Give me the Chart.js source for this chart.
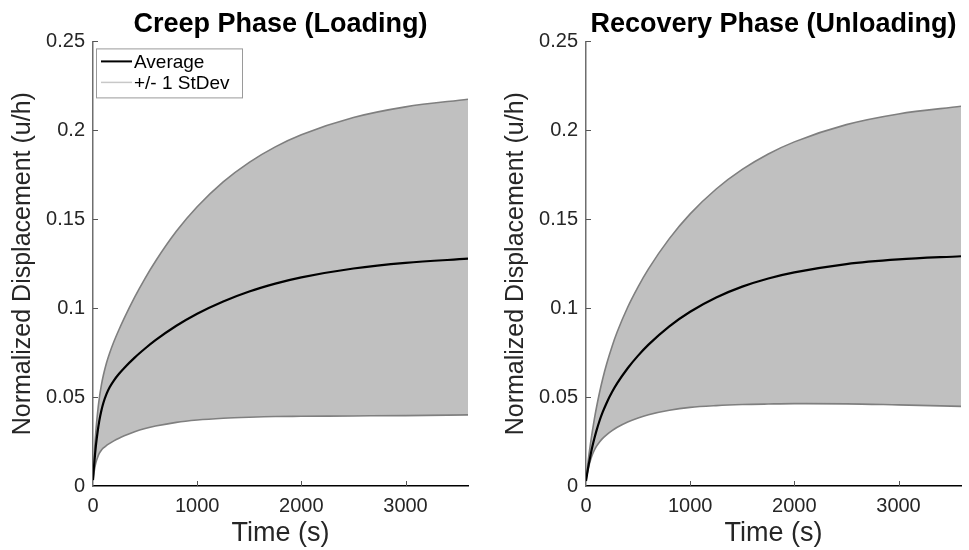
<!DOCTYPE html>
<html>
<head>
<meta charset="utf-8">
<script src="https://cdn.jsdelivr.net/npm/chart.js@4.4.0/dist/chart.umd.min.js"></script>
<style>
  html, body { margin: 0; padding: 0; background: #fff; }
  #wrap { position: relative; width: 969px; height: 550px; }
  canvas { position: absolute; top: 0; }
</style>
</head>
<body>
<div id="wrap">
  <canvas id="creepChart" width="485" height="550" style="left:0px;width:485px;height:550px"></canvas>
  <canvas id="recoveryChart" width="484" height="550" style="left:485px;width:484px;height:550px"></canvas>
</div>
<script>
// time samples (s), shared by every series
const timeS = [0, 5, 10, 20, 30, 45, 60, 80, 100, 130, 160, 200, 250, 300, 400, 500, 600, 800, 1000, 1250, 1500, 1750, 2000, 2500, 3000, 3600];

// creep phase (loading)
const creepAvg   = [0.0034, 0.0075, 0.0113, 0.0180, 0.0238, 0.0308, 0.0365, 0.0423, 0.0468, 0.0518, 0.0555, 0.0593, 0.0631, 0.0664, 0.0722, 0.0773, 0.0820, 0.0901, 0.0969, 0.1038, 0.1094, 0.1138, 0.1173, 0.1223, 0.1255, 0.1278];
const creepUpper = [0.0050, 0.0108, 0.0160, 0.0251, 0.0327, 0.0419, 0.0491, 0.0566, 0.0624, 0.0693, 0.0748, 0.0811, 0.0880, 0.0944, 0.1062, 0.1168, 0.1264, 0.1432, 0.1570, 0.1710, 0.1820, 0.1907, 0.1975, 0.2072, 0.2132, 0.2175];
const creepLower = [0.0030, 0.0055, 0.0076, 0.0110, 0.0136, 0.0162, 0.0183, 0.0201, 0.0214, 0.0228, 0.0240, 0.0254, 0.0269, 0.0282, 0.0305, 0.0323, 0.0337, 0.0358, 0.0371, 0.0381, 0.0387, 0.0391, 0.0392, 0.0394, 0.0396, 0.0400];

// recovery phase (unloading)
const recovAvg   = [0.0028, 0.0047, 0.0066, 0.0101, 0.0133, 0.0178, 0.0219, 0.0267, 0.0310, 0.0367, 0.0415, 0.0470, 0.0528, 0.0578, 0.0662, 0.0733, 0.0795, 0.0898, 0.0980, 0.1060, 0.1121, 0.1167, 0.1201, 0.1248, 0.1274, 0.1292];
const recovUpper = [0.0040, 0.0066, 0.0091, 0.0138, 0.0184, 0.0247, 0.0305, 0.0376, 0.0440, 0.0526, 0.0602, 0.0690, 0.0785, 0.0867, 0.1005, 0.1120, 0.1221, 0.1391, 0.1530, 0.1670, 0.1780, 0.1867, 0.1935, 0.2032, 0.2092, 0.2135];
const recovLower = [0.0030, 0.0048, 0.0064, 0.0093, 0.0118, 0.0149, 0.0174, 0.0201, 0.0223, 0.0248, 0.0268, 0.0289, 0.0311, 0.0330, 0.0360, 0.0383, 0.0401, 0.0426, 0.0442, 0.0452, 0.0458, 0.0461, 0.0463, 0.0462, 0.0456, 0.0448];

const xTicks = [0, 1000, 2000, 3000];
const yTicks = [0, 0.05, 0.1, 0.15, 0.2, 0.25];

Chart.defaults.font.family = '"Liberation Sans", Arial, sans-serif';
Chart.defaults.color = '#262626';

function toPoints(vals) {
    return timeS.map((t, i) => ({x: t, y: vals[i]}));
}

// MATLAB style ticks, pointing into the plot
const innerTicks = {
    id: 'innerTicks',
    afterDraw(chart) {
        const ctx = chart.ctx;
        const a = chart.chartArea;
        const xs = chart.scales.x, ys = chart.scales.y;
        ctx.save();
        ctx.strokeStyle = '#555';
        ctx.lineWidth = 1;
        ctx.beginPath();
        xTicks.forEach(v => {
            if (v === 0) return;
            const px = Math.round(xs.getPixelForValue(v)) + 0.5;
            ctx.moveTo(px, a.bottom);
            ctx.lineTo(px, a.bottom - 5);
        });
        yTicks.forEach(v => {
            if (v === 0) return;
            const py = Math.round(ys.getPixelForValue(v)) + 0.5;
            ctx.moveTo(a.left, py);
            ctx.lineTo(a.left + 5, py);
        });
        ctx.stroke();
        ctx.restore();
    }
};

// boxed legend in the upper left corner of the plot
const boxLegend = {
    id: 'boxLegend',
    afterDraw(chart) {
        const ctx = chart.ctx;
        const a = chart.chartArea;
        const ds = chart.data.datasets;
        const bx = a.left + 3, by = a.top + 7, bw = 146, bh = 49;
        ctx.save();
        ctx.fillStyle = '#fff';
        ctx.fillRect(bx, by, bw, bh);
        ctx.strokeStyle = '#9a9a9a';
        ctx.lineWidth = 1;
        ctx.strokeRect(bx + 0.5, by + 0.5, bw, bh);
        const rows = [
            {label: ds[0].label, color: '#000', width: 2},
            {label: ds[1].label, color: '#c8c8c8', width: 1.5}
        ];
        ctx.font = '19px "Liberation Sans", Arial, sans-serif';
        ctx.textBaseline = 'middle';
        ctx.fillStyle = '#000';
        rows.forEach((r, i) => {
            const ry = by + 13 + i * 21;
            ctx.strokeStyle = r.color;
            ctx.lineWidth = r.width;
            ctx.beginPath();
            ctx.moveTo(bx + 5, ry);
            ctx.lineTo(bx + 36, ry);
            ctx.stroke();
            ctx.fillText(r.label, bx + 38, ry + 1);
        });
        ctx.restore();
    }
};

function makePanel(canvasId, titleText, avg, upper, lower, yAxisWidth, yTitlePad, padRight, withLegend) {
    const ctx = document.getElementById(canvasId).getContext('2d');
    const plugins = [innerTicks];
    if (withLegend) plugins.push(boxLegend);
    return new Chart(ctx, {
        type: 'line',
        data: {
            datasets: [{
                label: 'Average',
                data: toPoints(avg),
                borderColor: '#000',
                borderWidth: 2.2,
                pointRadius: 0,
                cubicInterpolationMode: 'monotone',
                fill: false
            }, {
                label: '+/- 1 StDev',
                data: toPoints(upper),
                borderColor: '#7f7f7f',
                borderWidth: 1.6,
                backgroundColor: '#c0c0c0',
                pointRadius: 0,
                cubicInterpolationMode: 'monotone',
                fill: '+1'
            }, {
                label: '',
                data: toPoints(lower),
                borderColor: '#7f7f7f',
                borderWidth: 1.6,
                pointRadius: 0,
                cubicInterpolationMode: 'monotone',
                fill: false
            }]
        },
        plugins: plugins,
        options: {
            responsive: false,
            animation: false,
            layout: { padding: { left: 0, right: padRight, top: 0, bottom: 0 } },
            plugins: {
                legend: { display: false },
                tooltip: { enabled: false },
                filler: { drawTime: 'beforeDatasetsDraw' },
                title: {
                    display: true,
                    text: titleText,
                    fullSize: false,
                    color: '#000',
                    font: { size: 27, weight: 'bold' },
                    padding: { top: 8, bottom: 1 }
                }
            },
            scales: {
                x: {
                    type: 'linear',
                    min: 0,
                    max: 3600,
                    afterFit(scale) { scale.height = 64; },
                    afterBuildTicks(scale) { scale.ticks = xTicks.map(v => ({value: v})); },
                    grid: { display: false, drawTicks: false },
                    border: { color: '#000', width: 1.5 },
                    ticks: {
                        padding: 8,
                        font: { size: 20 },
                        color: '#262626',
                        callback: v => String(v)
                    },
                    title: {
                        display: true,
                        text: 'Time (s)',
                        color: '#262626',
                        font: { size: 27 },
                        padding: { top: 0, bottom: 0 }
                    }
                },
                y: {
                    type: 'linear',
                    min: 0,
                    max: 0.25,
                    afterFit(scale) { scale.width = yAxisWidth; },
                    afterBuildTicks(scale) { scale.ticks = yTicks.map(v => ({value: v})); },
                    grid: { display: false, drawTicks: false },
                    border: { color: '#6e6e6e', width: 1.5 },
                    ticks: {
                        padding: 8,
                        font: { size: 20 },
                        color: '#262626',
                        callback: v => String(+v.toFixed(2))
                    },
                    title: {
                        display: true,
                        text: 'Normalized Displacement (u/h)',
                        color: '#262626',
                        font: { size: 25 },
                        padding: { top: yTitlePad, bottom: 0 }
                    }
                }
            }
        }
    });
}

makePanel('creepChart', 'Creep Phase (Loading)', creepAvg, creepUpper, creepLower, 93, 8, 17, true);
makePanel('recoveryChart', 'Recovery Phase (Unloading)', recovAvg, recovUpper, recovLower, 101, 16, 8, false);
</script>
</body>
</html>
